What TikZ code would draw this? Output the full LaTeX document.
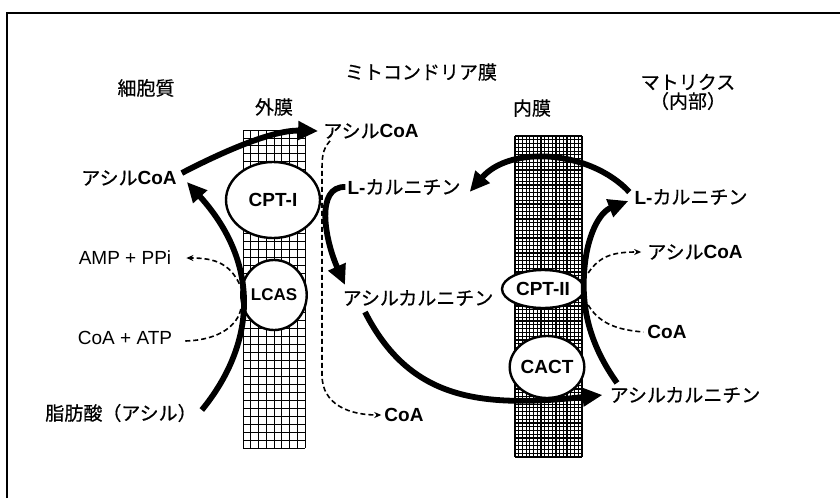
\documentclass[tikz,border=0pt]{standalone}
\usepackage{fontspec}
\setmainfont{Liberation Sans}
\newfontfamily\jp[FakeBold=0.5]{Noto Sans CJK JP}
\usetikzlibrary{arrows.meta,shapes.geometric}
\tikzset{
  lbl/.style={inner sep=1pt,font=\fontsize{19}{22}\selectfont},
  enz/.style={ellipse,draw,line width=2.4pt,fill=white,inner sep=0pt,font=\fontsize{19}{22}\selectfont\bfseries},
  thk/.style={line width=5.8pt,-{Triangle[length=20pt,width=18pt]}},
  dsh/.style={line width=1.6pt,dash pattern=on 5pt off 3pt},
  dsha/.style={dsh,-{Stealth[length=7pt,width=6pt]}},
  ogrid/.style={line width=0.9pt},
  igrid/.style={line width=1.2pt},
}
\begin{document}
\begin{tikzpicture}[x=1pt,y=-1pt]
\useasboundingbox (0,0) rectangle (840,498);
\fill[white] (0,0) rectangle (840,498);
% frame (only top and left visible)
\draw[line width=2pt] (7,498) -- (7,13) -- (840,13);
% outer membrane grid
\foreach \i in {0,...,8} \draw[ogrid] (243+\i*7.75,130) -- (243+\i*7.75,448);
\foreach \j in {0,...,40} \draw[ogrid] (243,130+\j*7.95) -- (305,130+\j*7.95);
% inner membrane grid
\foreach \i in {0,...,18} \draw[igrid] (515+\i*3.72,136) -- (515+\i*3.72,457);
\foreach \j in {0,...,85} \draw[igrid] (515,136+\j*3.776) -- (582,136+\j*3.776);
% labels
\node[lbl] (cyto) at (146,88) {\jp 細胞質};
\node[lbl] (outerlbl) at (274,107) {\jp 外膜};
\node[lbl] (mitolbl) at (421,72) {\jp ミトコンドリア膜};
\node[lbl] (innerlbl) at (532,108) {\jp 内膜};
\node[lbl,align=center] (matrixlbl) at (688,92) {\jp マトリクス\\[-3pt]\jp （内部）};
\node[lbl] (acoaL) at (129,178) {{\jp アシル}\textbf{CoA}};
\node[lbl] (acoaT) at (371,131) {{\jp アシル}\textbf{CoA}};
\node[lbl] (lcarM) at (404,187) {\textbf{L-}{\jp カルニチン}};
\node[lbl] (acarM) at (418,298) {\jp アシルカルニチン};
\node[lbl] (coaM) at (404,415) {\textbf{CoA}};
\node[lbl] (amp) at (125,258) {AMP + PPi};
\node[lbl] (coaatp) at (125,338) {CoA + ATP};
\node[lbl] (fatty) at (121,413) {\jp 脂肪酸（アシル）};
\node[lbl] (lcarR) at (691,197) {\textbf{L-}{\jp カルニチン}};
\node[lbl] (acoaR) at (695,252) {{\jp アシル}\textbf{CoA}};
\node[lbl] (coaR) at (667,332) {\textbf{CoA}};
\node[lbl] (acarR) at (685,395) {\jp アシルカルニチン};
% enzymes
\node[enz,minimum width=94pt,minimum height=76pt] (cpt1) at (273,200) {CPT-I};
\node[enz,minimum width=58pt,minimum height=70pt,font=\fontsize{17}{20}\selectfont\bfseries] (lcas) at (274,295) {LCAS};
\node[enz,minimum width=82pt,minimum height=38pt] (cpt2) at (543,289) {CPT-II};
\node[enz,minimum width=74pt,minimum height=62pt] (cact) at (547,367) {CACT};
% dashed side reactions
\draw[dsha] ([xshift=2pt,yshift=-2pt]lcas.170) .. controls (232,263) and (215,258) .. ([xshift=14pt]amp.east);
\draw[dsh] ([xshift=12pt,yshift=-3pt]coaatp.east) .. controls (220,340) and (238,325) .. ([xshift=1pt,yshift=-13pt]lcas.west);
\draw[dsha] ([xshift=-41pt,yshift=-1pt]acoaT.south) .. controls (322,150) and (322,158) .. (322,172) -- (322,375) .. controls (322,405) and (350,415) .. ([xshift=-2pt]coaM.west);
\draw[dsha] ([xshift=3pt,yshift=16pt]cpt2.east) .. controls (600,255) and (615,252) .. ([xshift=-5pt]acoaR.west);
\draw[dsh] ([xshift=3pt,yshift=-16pt]cpt2.east) .. controls (600,325) and (620,330) .. ([xshift=-3pt]coaR.west);
% thick arrows
\draw[thk] ([xshift=4pt,yshift=5pt]acoaL.east) .. controls (230,148) and (275,130) .. ([xshift=-4pt]acoaT.west);
\draw[thk] ([xshift=4pt,yshift=3pt]fatty.east) .. controls (255,345) and (262,265) .. ([xshift=9pt,yshift=-4pt]acoaL.east);
\draw[thk] ([xshift=-1pt]lcarM.west) .. controls (315,186) and (325,240) .. ([xshift=-73pt,yshift=4pt]acarM.north);
\draw[thk] ([xshift=-53pt,yshift=-5pt]acarM.south) .. controls (410,400) and (480,408) .. ([xshift=-6pt]acarR.west);
\draw[thk] ([xshift=-68pt,yshift=3pt]acarR.north) .. controls (590,345) and (582,310) .. (584,275) .. controls (586,235) and (600,212) .. ([xshift=-5pt,yshift=-4pt]lcarR.west);
\draw[thk] ([xshift=-4pt,yshift=5pt]lcarR.west) .. controls (590,150) and (510,145) .. ([xshift=8pt,yshift=-14pt]lcarM.north east);
\end{tikzpicture}
\end{document}
